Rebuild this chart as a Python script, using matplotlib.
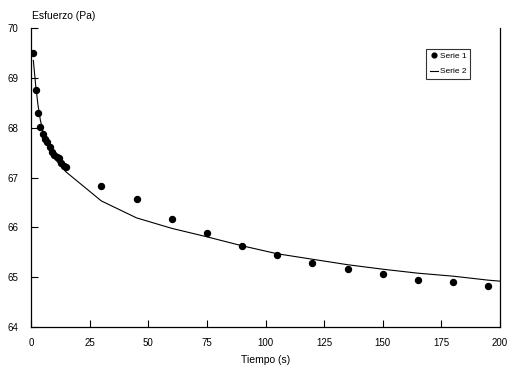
import matplotlib
matplotlib.use("Agg")
import matplotlib.pyplot as plt

plt.rcParams['font.family'] = ['Liberation Sans', 'DejaVu Sans']

# Serie 1: measured points
t1 = [1, 2, 3, 4, 5, 6, 7, 8, 9, 10, 11, 12, 13, 14, 15,
      30, 45, 60, 75, 90, 105, 120, 135, 150, 165, 180, 195]
s1 = [69.49, 68.75, 68.29, 68.01, 67.87, 67.77, 67.72, 67.62, 67.52, 67.45,
      67.42, 67.40, 67.30, 67.24, 67.22,
      66.82, 66.56, 66.16, 65.88, 65.62, 65.44, 65.28, 65.17, 65.07, 64.95, 64.90, 64.83]

# Serie 2: fitted curve
t2 = [1, 2, 3, 4, 5, 6, 7, 8, 9, 10, 11, 12, 13, 14, 15,
      30, 45, 60, 75, 90, 105, 120, 135, 150, 165, 180, 195, 200]
s2 = [69.35, 68.85, 68.45, 68.15, 67.95, 67.80, 67.68, 67.57, 67.48, 67.40,
      67.33, 67.27, 67.21, 67.16, 67.11,
      66.53, 66.19, 65.98, 65.81, 65.63, 65.47, 65.36, 65.25, 65.16, 65.08, 65.02, 64.94, 64.92]

fig = plt.figure(figsize=(5.27, 3.76), dpi=100)
ax = fig.add_axes([0.0588, 0.1303, 0.89, 0.7952])

ax.plot(t1, s1, 'o', color='black', markersize=4.3, label='Serie 1')
ax.plot(t2, s2, '-', color='black', linewidth=0.8, label='Serie 2')

ax.set_xlim(0, 200)
ax.set_ylim(64, 70)
ax.set_xticks(range(0, 201, 25))
ax.set_yticks(range(64, 71))
ax.tick_params(direction='in', length=5, width=0.8, labelsize=7, pad=8)
ax.tick_params(axis='y', pad=9)
ax.spines['top'].set_visible(False)
for s in ['left', 'bottom', 'right']:
    ax.spines[s].set_linewidth(0.9)

ax.set_xlabel('Tiempo (s)', fontsize=7.5, labelpad=5)
fig.text(0.061, 0.958, 'Esfuerzo (Pa)', fontsize=7.5, va='center', ha='left')

leg = ax.legend(loc='upper left', bbox_to_anchor=(0.843, 0.93), fontsize=6,
                frameon=True, fancybox=False, handlelength=1.0, handletextpad=0.2,
                borderpad=0.4, labelspacing=0.9, markerscale=0.8, borderaxespad=0)
leg.get_frame().set_edgecolor('black')
leg.get_frame().set_linewidth(0.8)

fig.savefig('out.png', dpi=100)
